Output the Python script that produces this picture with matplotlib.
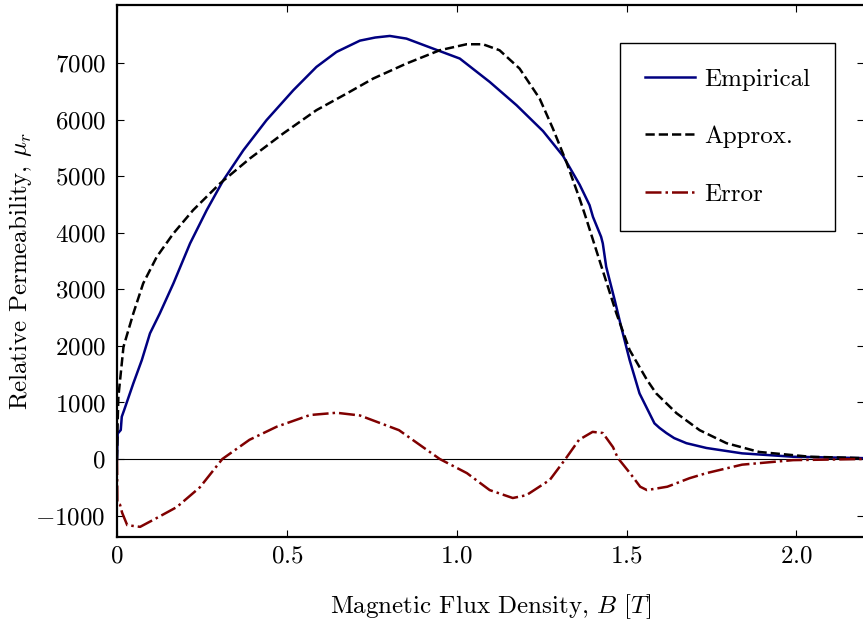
import matplotlib
matplotlib.use('Agg')
import matplotlib.pyplot as plt

plt.rcParams['font.family'] = 'serif'
plt.rcParams['font.serif'] = ['cmr10', 'DejaVu Serif']
plt.rcParams['mathtext.fontset'] = 'cm'
plt.rcParams['axes.unicode_minus'] = False

# Empirical curve (B in T, relative permeability)
b_emp = [0.0, 0.002, 0.011, 0.014, 0.021, 0.048, 0.073, 0.097, 0.126, 0.166, 0.215,
         0.264, 0.313, 0.372, 0.44, 0.519, 0.587, 0.646, 0.715, 0.76, 0.803, 0.852,
         0.93, 1.009, 1.097, 1.176, 1.254, 1.313, 1.362, 1.391, 1.401, 1.425, 1.43,
         1.44, 1.45, 1.465, 1.484, 1.509, 1.538, 1.582, 1.597, 1.617, 1.64, 1.676,
         1.735, 1.84, 1.99, 2.2]
mu_emp = [0, 450, 513, 748, 866, 1338, 1750, 2222, 2576, 3106, 3813,
          4402, 4932, 5462, 5993, 6523, 6935, 7200, 7400, 7455, 7483, 7436,
          7260, 7083, 6670, 6258, 5800, 5360, 4850, 4490, 4283, 3930, 3813,
          3400, 3164, 2811, 2339, 1750, 1161, 631, 550, 460, 370, 280,
          195, 100, 40, 15]

# Analytical approximation
b_apx = [0.0, 0.002, 0.004, 0.019, 0.048, 0.077, 0.117, 0.166, 0.224, 0.303, 0.391,
         0.489, 0.587, 0.676, 0.754, 0.852, 0.95, 1.029, 1.077, 1.126, 1.185, 1.244,
         1.283, 1.323, 1.362, 1.381, 1.42, 1.47, 1.509, 1.56, 1.587, 1.647, 1.715,
         1.794, 1.89, 2.04, 2.2]
mu_apx = [0, 700, 1101, 1985, 2575, 3106, 3576, 3990, 4402, 4873, 5315,
          5757, 6170, 6464, 6729, 6995, 7230, 7336, 7336, 7230, 6906, 6376,
          5846, 5250, 4600, 4255, 3518, 2576, 1927, 1400, 1161, 810, 510,
          280, 125, 40, 15]

# Error
b_err = [0.0, 0.001, 0.009, 0.015, 0.03, 0.068, 0.118, 0.176, 0.244, 0.31, 0.39,
         0.47, 0.568, 0.646, 0.715, 0.83, 0.95, 1.03, 1.097, 1.165, 1.205, 1.274,
         1.32, 1.36, 1.40, 1.43, 1.46, 1.474, 1.51, 1.54, 1.56, 1.62, 1.685, 1.735,
         1.84, 1.99, 2.2]
mu_err = [0, -780, -810, -950, -1170, -1200, -1040, -850, -500, 0, 340,
          571, 778, 818, 770, 510, 0, -250, -550, -690, -640, -370,
          0, 340, 480, 460, 210, 20, -250, -490, -550, -490, -340, -250,
          -100, -20, 0]

xticks = [0, 0.5, 1.0, 1.5, 2.0]
xticklabels = ['0', '0.5', '1.0', '1.5', '2.0']
yticks = [-1000, 0, 1000, 2000, 3000, 4000, 5000, 6000, 7000]

fig = plt.figure(figsize=(8.63, 6.27), dpi=100)
ax = fig.add_axes([0.1356, 0.1435, 0.866, 0.8485])

ax.axhline(0, color='black', linewidth=0.8)
ax.plot(b_emp, mu_emp, color='#000080', linewidth=1.8, label='Empirical')
ax.plot(b_apx, mu_apx, color='black', linestyle='--', linewidth=1.8, label='Approx.')
ax.plot(b_err, mu_err, color='#800000', linestyle='-.', linewidth=1.8, label='Error')

ax.set_xlim(0, 2.2)
ax.set_ylim(-1380, 8030)
ax.set_xticks(xticks)
ax.set_xticklabels(['$%s$' % s for s in xticklabels])
ax.set_yticks(yticks)
ax.set_yticklabels(['$%d$' % v for v in yticks])
ax.tick_params(direction='in', top=True, right=True, length=5, labelsize=18)
ax.tick_params(axis='x', pad=6)
ax.tick_params(axis='y', pad=8)
for s in ax.spines.values():
    s.set_linewidth(1.6)

ax.set_xlabel('Magnetic Flux Density, $B$ $[T]$', fontsize=18, labelpad=18)
ax.set_ylabel('Relative Permeability, $\\mu_r$', fontsize=18, labelpad=1)

leg = ax.legend(loc='upper right', fontsize=18, fancybox=False, labelspacing=1.4,
                handlelength=2.0, handletextpad=0.35, borderpad=1.0,
                borderaxespad=0, bbox_to_anchor=(0.961, 0.9286))
leg.get_frame().set_edgecolor('black')
leg.get_frame().set_linewidth(1.0)
leg.get_frame().set_alpha(1)

fig.savefig('out.png', dpi=100)
